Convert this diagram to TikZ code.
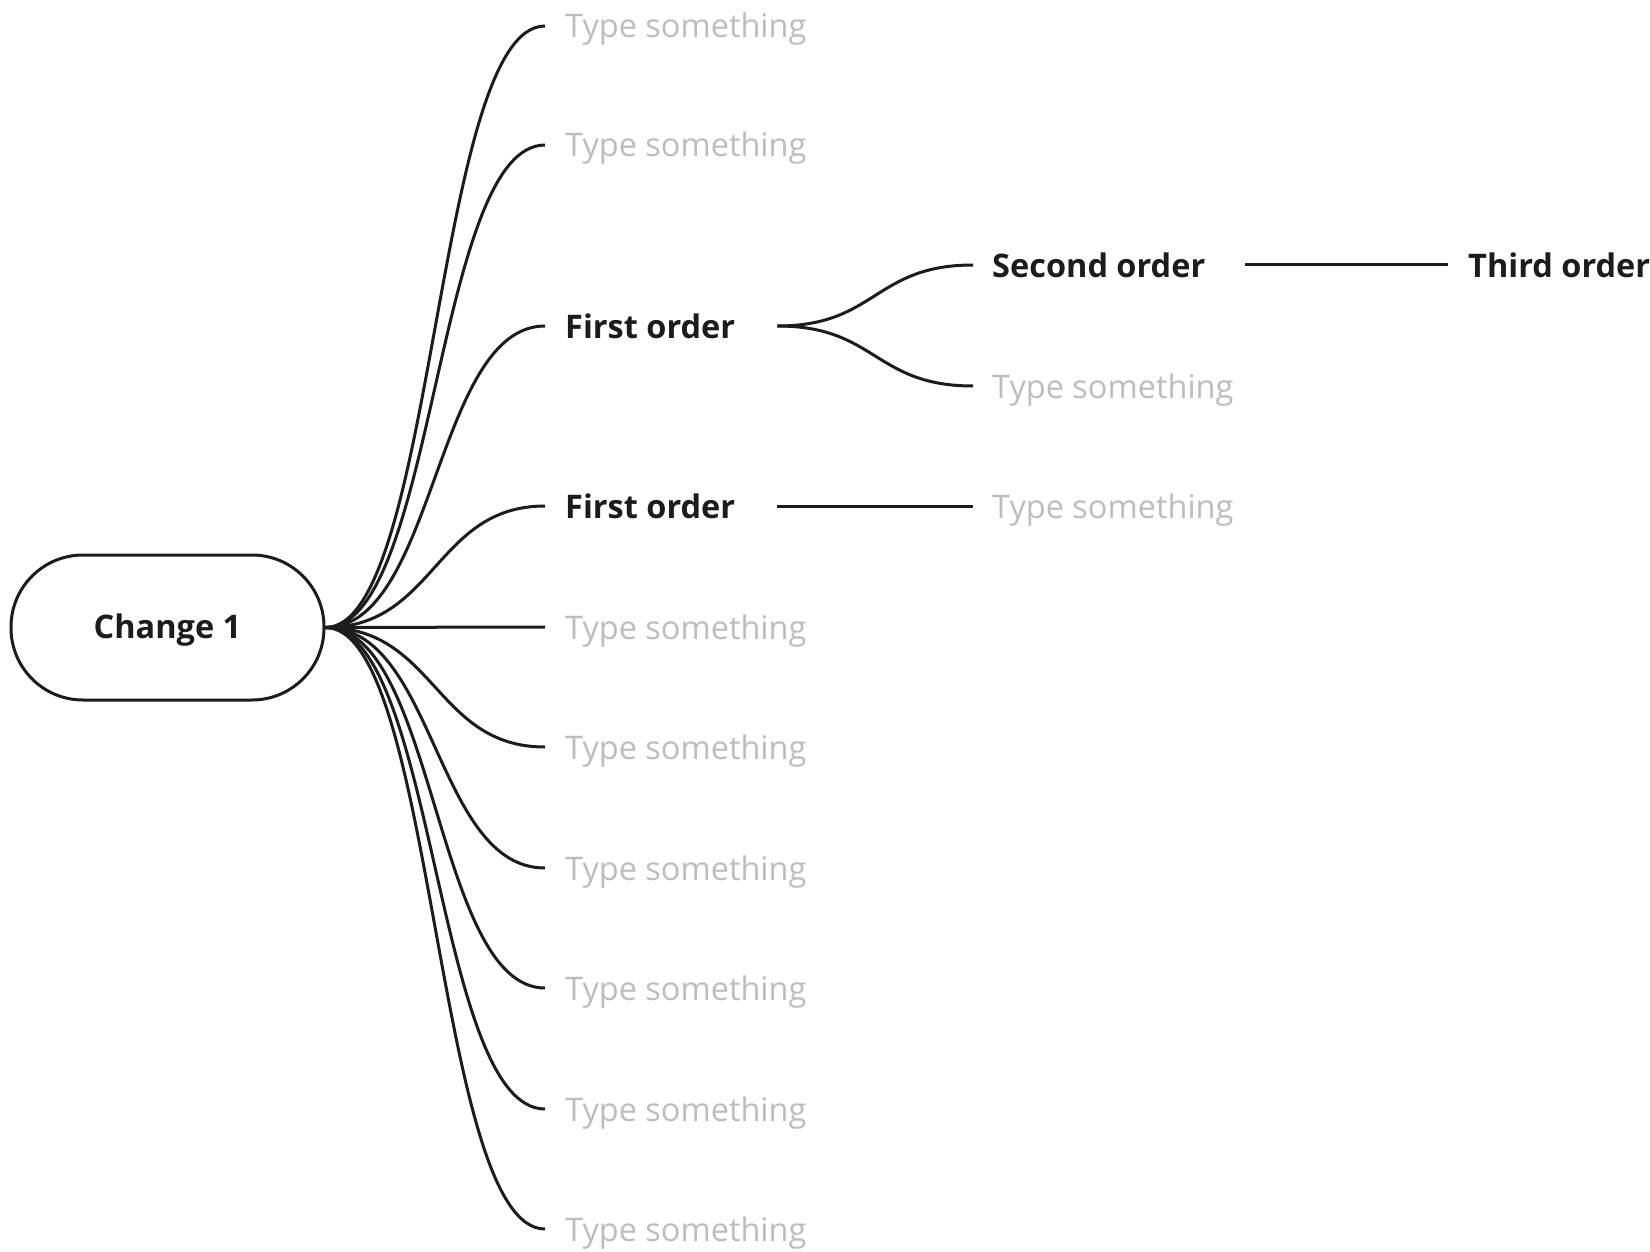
\documentclass[tikz,border=0pt]{standalone}
\usepackage{fontspec}
\setmainfont{Open Sans}
\definecolor{ink}{HTML}{1C1C1C}
\definecolor{faint}{HTML}{BDBDBD}
\begin{document}
\begin{tikzpicture}[x=1pt,y=-1pt,
  conn/.style={draw=ink,line width=3pt},
  lbl/.style={inner sep=0pt,anchor=west,text height=24pt,text depth=0pt,font=\fontsize{32.5}{38}\selectfont},
  ghost/.style={lbl,text=faint},
  strong/.style={lbl,text=ink,font=\fontsize{32.5}{38}\selectfont\bfseries},
  lvlone/.style={conn,out=0,in=180,out distance=110pt,in distance=110pt},
  lvltwo/.style={conn,out=0,in=180,out distance=99pt,in distance=99pt}]
\useasboundingbox (0,0) rectangle (1650,1252);
\node[draw=ink,line width=3pt,rounded corners=72pt,minimum width=313pt,minimum height=145pt,inner sep=0pt,
  text height=22pt,text depth=0pt,
  text=ink,font=\fontsize{32.5}{38}\selectfont\bfseries] (root) at (167.5,627.5) {Change 1};
\node[ghost] (a1) at (565,26) {Type something};
\node[ghost] (a2) at (565,145) {Type something};
\node[strong] (a3) at (565,326) {First order};
\node[strong] (a4) at (565,506) {First order};
\node[ghost] (a5) at (565,627) {Type something};
\node[ghost] (a6) at (565,747) {Type something};
\node[ghost] (a7) at (565,868) {Type something};
\node[ghost] (a8) at (565,988) {Type something};
\node[ghost] (a9) at (565,1109) {Type something};
\node[ghost] (a10) at (565,1229) {Type something};
\node[strong] (b1) at (992,265) {Second order};
\node[ghost] (b2) at (992,386) {Type something};
\node[ghost] (b3) at (992,506) {Type something};
\node[strong] (c1) at (1468,265) {Third order};
\foreach \i in {1,...,10}{
  \draw[lvlone] (root.east) to ([xshift=-20pt]a\i.west);
}
\draw[lvltwo] ([xshift=42pt]a3.east) to ([xshift=-19pt]b1.west);
\draw[lvltwo] ([xshift=42pt]a3.east) to ([xshift=-19pt]b2.west);
\draw[conn] ([xshift=42pt]a4.east) -- ([xshift=-19pt]b3.west);
\draw[conn] ([xshift=40pt]b1.east) -- ([xshift=-20pt]c1.west);
\end{tikzpicture}
\end{document}
